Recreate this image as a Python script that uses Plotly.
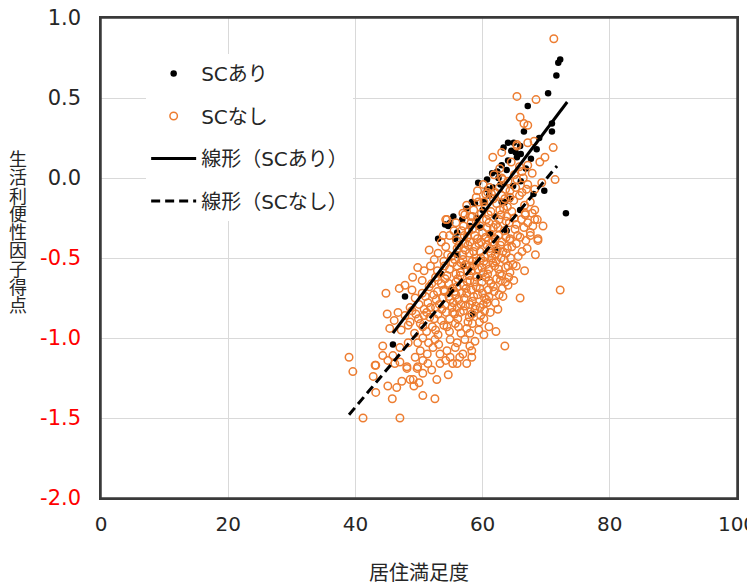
import plotly.graph_objects as go

# ---------------- data ----------------
sc_ari_points = [
    (72.2, 0.74), (71.9, 0.72), (71.6, 0.64), (70.3, 0.53), (67.1, 0.45), (70.9, 0.34),
    (70.9, 0.29), (66.5, 0.29), (68.9, 0.25), (64.0, 0.22), (64.9, 0.22), (65.9, 0.20),
    (73.1, -0.22), (63.3, 0.19), (64.5, 0.17), (65.2, 0.16), (66.0, 0.15), (65.4, 0.13),
    (64.0, 0.11), (63.0, 0.08), (62.3, 0.04), (61.5, 0.03), (60.7, -0.01), (59.3, -0.03),
    (60.7, -0.07), (61.6, -0.06), (58.3, -0.15), (58.8, -0.16), (63.0, -0.15), (64.3, -0.13),
    (65.9, -0.20), (69.7, -0.08), (55.4, -0.24), (54.1, -0.29), (56.0, -0.34), (55.7, -0.38),
    (59.1, -0.25), (59.6, -0.31), (62.0, -0.24), (63.8, -0.33), (54.6, -0.30), (54.9, -0.28),
    (53.0, -0.38), (47.8, -0.74), (45.9, -1.04), (60.2, -0.15), (63.5, -0.15),
    (62.5, 0.00), (63.8, 0.05), (66.8, 0.06), (67.6, 0.12), (68.5, 0.18), (61.0, -0.11),
    (62.8, -0.04), (57.5, -0.19), (56.8, -0.26), (58.0, -0.30), (60.0, -0.20), (61.2, -0.35),
    (57.0, -0.55), (59.5, -0.62), (55.0, -0.70), (62.0, -0.45), (64.8, -0.05), (66.0, -0.02),
    (68.0, -0.10), (53.5, -0.60), (58.5, -0.85), (56.0, -0.48),
]

sc_nashi_points = [
    # upper / outer points
    (71.2, 0.87), (65.4, 0.51), (68.4, 0.49), (65.9, 0.38), (66.5, 0.34), (67.1, 0.33),
    (65.4, 0.21), (67.1, 0.22), (68.1, 0.23), (71.1, 0.19), (61.6, 0.13), (63.0, 0.16),
    (65.4, 0.20), (69.8, 0.13), (69.0, 0.10), (67.1, 0.08), (67.8, 0.03), (66.2, 0.04),
    (62.7, 0.06), (60.8, -0.09), (63.2, -0.01), (65.4, -0.01), (67.1, -0.04), (69.3, -0.03),
    (71.4, -0.01), (68.2, -0.07), (66.2, -0.09), (64.3, -0.12), (67.5, -0.15), (68.2, -0.20),
    (66.7, -0.23), (68.6, -0.26), (67.1, -0.28), (67.5, -0.34), (68.7, -0.38), (54.4, -0.26),
    (56.9, -0.22), (53.8, -0.36), (64.3, -0.39),
    # lower-left / outer points
    (39.0, -1.12), (39.6, -1.21), (41.2, -1.50), (47.0, -1.50), (43.2, -1.17), (42.8, -1.24),
    (43.2, -1.34), (45.8, -1.38), (44.3, -1.05), (44.8, -0.72), (45.0, -0.85), (46.1, -0.89),
    (45.4, -0.94), (46.9, -0.69), (47.8, -0.67), (48.9, -0.70), (49.8, -0.56), (51.6, -0.45),
    (46.7, -0.84), (48.6, -0.81), (52.5, -1.38), (52.8, -1.26), (54.6, -1.23), (50.6, -1.36),
    (49.2, -1.30), (50.0, -1.28), (48.6, -1.26), (46.5, -1.31), (47.3, -1.27), (48.1, -1.19),
    (49.7, -1.19), (51.4, -1.16), (53.3, -1.16), (54.9, -1.12), (56.0, -1.16), (56.9, -1.10),
    (58.3, -1.08), (63.5, -1.05), (60.2, -0.88), (60.2, -0.98), (58.8, -1.02), (58.3, -1.12),
    (57.5, -1.16), (72.2, -0.70), (65.9, -0.75), (68.7, -0.39), (66.2, -0.46), (67.5, -0.36),
    (64.8, -0.54), (64.0, -0.67), (63.2, -0.74), (62.0, -0.78), (60.7, -0.78), (63.1, -0.69),
    (54.2, -0.26), (57.2, -0.23), (66.7, -0.22), (68.2, -0.26),
    (43.1, -1.17), (45.1, -1.30), (49.1, -1.26), (46.2, -1.16), (47.0, -1.15), (48.1, -1.18),
    (49.8, -1.18), (50.6, -1.22), (45.1, -1.14), (44.3, -1.11), (45.9, -1.11), (47.0, -1.06),
    (50.2, -1.08), (51.3, -1.10), (52.2, -1.06), (53.3, -1.10), (54.4, -1.08), (55.7, -1.06),
    (56.4, -1.12), (55.3, -1.16), (54.9, -1.01), (57.2, -1.01), (50.6, -1.14), (49.4, -1.12),
    (49.8, -1.03), (50.6, -1.00), (52.5, -1.01), (48.3, -1.03),
    # dense core
    (57.5, -0.17), (59.0, -0.12), (60.2, -0.15), (61.4, -0.10), (62.2, -0.16), (63.0, -0.11),
    (63.9, -0.18), (64.9, -0.14), (65.8, -0.11), (66.6, -0.17), (62.6, -0.06), (64.0, -0.02),
    (65.0, 0.02), (66.4, 0.00), (61.8, 0.02), (60.1, -0.04), (59.2, -0.08),
    (55.8, -0.28), (57.0, -0.30), (58.1, -0.24), (59.0, -0.27), (59.8, -0.22), (60.6, -0.26),
    (61.3, -0.21), (62.1, -0.29), (62.9, -0.23), (63.7, -0.27), (64.6, -0.21), (65.3, -0.29),
    (66.1, -0.26), (67.8, -0.22), (69.5, -0.30), (60.4, -0.18), (63.3, -0.19), (58.6, -0.20),
    (54.8, -0.36), (55.9, -0.39), (56.7, -0.33), (57.6, -0.37), (58.4, -0.32), (59.2, -0.38),
    (60.0, -0.34), (60.9, -0.39), (61.7, -0.31), (62.5, -0.36), (63.4, -0.33), (64.3, -0.38),
    (65.1, -0.32), (65.9, -0.37), (66.8, -0.39), (58.0, -0.40), (61.2, -0.35), (63.0, -0.40),
    (53.0, -0.47), (54.2, -0.43), (55.1, -0.49), (56.0, -0.44), (56.9, -0.48), (57.7, -0.42),
    (58.6, -0.46), (59.4, -0.41), (60.3, -0.49), (61.1, -0.44), (62.0, -0.48), (62.8, -0.42),
    (63.7, -0.47), (64.6, -0.43), (65.6, -0.49), (67.0, -0.44), (68.3, -0.48), (59.0, -0.50),
    (57.3, -0.45), (61.6, -0.40),
    (51.8, -0.55), (52.9, -0.58), (53.9, -0.52), (54.8, -0.57), (55.6, -0.51), (56.5, -0.59),
    (57.3, -0.54), (58.2, -0.58), (59.0, -0.52), (59.9, -0.56), (60.8, -0.60), (61.6, -0.53),
    (62.5, -0.57), (63.4, -0.51), (64.3, -0.59), (65.3, -0.55), (66.6, -0.58), (56.0, -0.55),
    (60.2, -0.52), (58.6, -0.55),
    (50.5, -0.64), (51.6, -0.68), (52.6, -0.62), (53.5, -0.66), (54.4, -0.61), (55.3, -0.69),
    (56.1, -0.63), (57.0, -0.67), (57.9, -0.61), (58.7, -0.65), (59.6, -0.69), (60.5, -0.62),
    (61.3, -0.66), (62.2, -0.63), (63.0, -0.61), (64.9, -0.64), (55.8, -0.65), (58.2, -0.70),
    (60.9, -0.70),
    (49.4, -0.75), (50.5, -0.72), (51.4, -0.78), (52.3, -0.73), (53.2, -0.79), (54.0, -0.71),
    (54.9, -0.76), (55.8, -0.73), (56.6, -0.79), (57.5, -0.72), (58.4, -0.77), (59.2, -0.73),
    (60.1, -0.79), (61.0, -0.74), (61.8, -0.71), (52.7, -0.76), (56.2, -0.76), (58.9, -0.80),
    (47.8, -0.86), (48.9, -0.83), (49.9, -0.88), (50.8, -0.82), (51.7, -0.87), (52.6, -0.81),
    (53.5, -0.89), (54.3, -0.84), (55.2, -0.81), (56.1, -0.88), (57.0, -0.83), (57.9, -0.87),
    (58.8, -0.82), (59.7, -0.86), (61.2, -0.84), (62.4, -0.82), (55.6, -0.85),
    (47.2, -0.95), (48.3, -0.92), (49.3, -0.97), (50.2, -0.91), (51.2, -0.96), (52.1, -0.93),
    (53.0, -0.98), (53.9, -0.92), (54.8, -0.96), (55.7, -0.91), (56.6, -0.97), (57.5, -0.94),
    (58.4, -0.91), (59.4, -0.95), (61.0, -0.93), (62.1, -0.96),
    (58.2, -0.28), (59.6, -0.30), (61.0, -0.28), (62.4, -0.31), (63.8, -0.24), (65.0, -0.25),
    (57.2, -0.41), (58.9, -0.43), (60.7, -0.42), (62.3, -0.45), (63.9, -0.44), (65.3, -0.41),
    (55.3, -0.53), (56.9, -0.51), (58.4, -0.52), (60.1, -0.59), (61.9, -0.55), (63.6, -0.56),
    (53.0, -0.64), (54.7, -0.66), (56.5, -0.61), (58.0, -0.64), (59.9, -0.65), (61.7, -0.68),
    (51.0, -0.74), (53.7, -0.75), (55.4, -0.78), (57.1, -0.75), (58.0, -0.79), (60.6, -0.76),
    (49.5, -0.85), (51.2, -0.84), (53.0, -0.85), (54.8, -0.88), (56.5, -0.84), (58.3, -0.85),
    (60.3, -0.83), (61.5, -0.50), (62.8, -0.64), (64.1, -0.62), (59.3, -0.15), (61.7, -0.13),
    (64.3, -0.08), (66.9, -0.07), (63.0, 0.00), (65.8, 0.07), (64.5, 0.10),
    (56.3, -0.42), (57.9, -0.47), (59.6, -0.46), (61.3, -0.47), (62.9, -0.50), (64.4, -0.50),
    (54.0, -0.55), (55.8, -0.60), (57.6, -0.58), (59.3, -0.57), (61.0, -0.57), (62.7, -0.60),
    (52.0, -0.66), (53.9, -0.70), (55.6, -0.71), (57.4, -0.69), (59.1, -0.62), (60.0, -0.72),
    (50.0, -0.79), (51.8, -0.81), (53.6, -0.82), (55.3, -0.84), (57.3, -0.80), (59.6, -0.81),
    (48.6, -0.90), (50.6, -0.93), (52.6, -0.95), (54.4, -0.93), (56.2, -0.93), (58.0, -0.97),
    (57.1, -0.36), (58.8, -0.36), (60.5, -0.37), (62.0, -0.38), (63.7, -0.37), (65.5, -0.36),
    (58.4, -0.24), (60.9, -0.23), (62.6, -0.26), (64.2, -0.28), (66.5, -0.31), (67.9, -0.30),
    (60.5, -0.10), (62.0, -0.09), (63.6, -0.07), (65.2, -0.06), (61.1, -0.06), (63.5, -0.13),
    (51.5, -1.03), (53.1, -1.04), (56.0, -1.03), (58.0, -1.05), (54.2, -1.14), (52.0, -1.20),
    (49.0, -0.62), (50.8, -0.58), (52.4, -0.51), (54.5, -0.48), (53.5, -0.40), (55.5, -0.33),
    (57.8, -0.33), (59.8, -0.40), (61.8, -0.42), (63.2, -0.46), (60.7, -0.31), (62.7, -0.20),
    (56.6, -0.53), (58.0, -0.55), (60.6, -0.54), (62.1, -0.52), (59.7, -0.50), (64.0, -0.55),
    (54.1, -0.63), (56.0, -0.68), (57.6, -0.65), (59.0, -0.68), (61.0, -0.64), (63.6, -0.65),
    (52.9, -0.71), (54.7, -0.74), (56.7, -0.72), (58.6, -0.74), (60.3, -0.75), (62.6, -0.73),
    (50.8, -0.86), (52.4, -0.88), (54.1, -0.79), (56.0, -0.81), (57.7, -0.90), (59.5, -0.90),
]

trend_ari_x = [45.9, 73.3]
trend_ari_y = [-0.97, 0.475]
trend_nashi_x = [39.0, 71.7]
trend_nashi_y = [-1.48, 0.075]

series_names = ["SCあり", "SCなし", "線形（SCあり）", "線形（SCなし）"]

x_tick_vals = [0, 20, 40, 60, 80, 100]
x_tick_text = ["0", "20", "40", "60", "80", "100"]
y_tick_vals = [1.0, 0.5, 0.0, -0.5, -1.0, -1.5, -2.0]
y_tick_labels = ["1.0", "0.5", "0.0", "-0.5", "-1.0", "-1.5", "-2.0"]

x_title = "居住満足度"
y_title = "生活利便性因子得点"

# ---------------- figure ----------------
FONT = "Noto Sans CJK JP"
TICKFONT = "DejaVu Sans, Noto Sans CJK JP"
ORANGE = "#ED7D31"
TXT = "#262626"
FRAME = "#3A3A3A"

ari_x = [p[0] for p in sc_ari_points]
ari_y = [p[1] for p in sc_ari_points]
nashi_x = [p[0] for p in sc_nashi_points]
nashi_y = [p[1] for p in sc_nashi_points]

fig = go.Figure()
fig.add_trace(go.Scatter(
    x=ari_x, y=ari_y, mode="markers", name=series_names[0], legendgroup="a",
    marker=dict(color="black", size=6.5, line=dict(width=0)),
))
fig.add_trace(go.Scatter(
    x=nashi_x, y=nashi_y, mode="markers", name=series_names[1], legendgroup="b",
    marker=dict(color=ORANGE, size=7.5, symbol="circle-open", line=dict(width=1.5, color=ORANGE)),
))
fig.add_trace(go.Scatter(
    x=trend_ari_x, y=trend_ari_y, mode="lines", name=series_names[2], legendgroup="c",
    line=dict(color="black", width=3),
))
fig.add_trace(go.Scatter(
    x=trend_nashi_x, y=trend_nashi_y, mode="lines", name=series_names[3], legendgroup="d",
    line=dict(color="black", width=3, dash="9px,5px"),
))

y_tick_text = [
    (f"<span style='color:#FF0000'>{t}</span>" if v < 0 else t)
    for v, t in zip(y_tick_vals, y_tick_labels)
]

# the page body adds an 8px offset; the figure is sized to fill the rest of the window
fig.update_layout(
    width=747, height=577,
    margin=dict(l=93, r=18, t=10, b=87, autoexpand=False),
    paper_bgcolor="white", plot_bgcolor="white",
    font=dict(family=FONT, color=TXT, size=18),
    showlegend=True,
    legend=dict(
        x=0.071, y=0.925, xanchor="left", yanchor="top",
        bgcolor="white", borderwidth=0,
        font=dict(family="DejaVu Sans, Noto Sans CJK JP", size=20, color=TXT),
        tracegroupgap=13.5, traceorder="grouped", itemwidth=45,
    ),
    xaxis=dict(
        range=[0, 100], tickvals=x_tick_vals, ticktext=x_tick_text,
        showgrid=True, gridcolor="#D9D9D9", gridwidth=1,
        showline=True, linecolor=FRAME, linewidth=1.5, mirror="all",
        zeroline=False, ticks="", ticklabelstandoff=7, automargin=False,
        ticklabeloverflow="allow",
        tickfont=dict(family=TICKFONT, size=20, color=TXT),
    ),
    yaxis=dict(
        range=[-2, 1], tickvals=y_tick_vals, ticktext=y_tick_text,
        showgrid=True, gridcolor="#D9D9D9", gridwidth=1,
        showline=True, linecolor=FRAME, linewidth=1.5, mirror="all",
        zeroline=False, ticks="", ticklabelstandoff=14, automargin=False,
        ticklabeloverflow="allow",
        tickfont=dict(family=TICKFONT, size=21, color=TXT),
    ),
    shapes=[dict(
        type="rect", xref="paper", yref="paper", x0=0, y0=0, x1=1, y1=1,
        line=dict(color=FRAME, width=1.5), fillcolor="rgba(0,0,0,0)", layer="above",
    )],
)

# x-axis title
fig.add_annotation(
    text=x_title, xref="paper", yref="paper", x=0.5, y=0, yshift=-73,
    showarrow=False, xanchor="center", yanchor="middle",
    font=dict(family=FONT, size=20, color=TXT),
)
# vertical (upright stacked) y-axis title
for i, ch in enumerate(y_title):
    fig.add_annotation(
        text=ch, xref="paper", yref="paper", x=0, xshift=-83,
        y=1, yshift=18 - 158 - i * 18.25,
        showarrow=False, xanchor="center", yanchor="middle",
        font=dict(family=FONT, size=18, color=TXT),
    )

fig.write_html("out.html")
